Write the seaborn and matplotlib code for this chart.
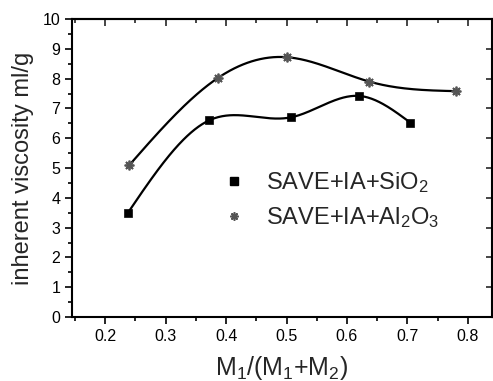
import numpy as np
import pandas as pd
import matplotlib
matplotlib.use("Agg")
import matplotlib.pyplot as plt
from matplotlib.ticker import MultipleLocator
from matplotlib.lines import Line2D
import seaborn as sns

sio2_x = [0.237, 0.372, 0.507, 0.620, 0.705]
sio2_y = [3.48, 6.60, 6.70, 7.42, 6.52]
al_x = [0.240, 0.387, 0.500, 0.637, 0.780]
al_y = [5.10, 8.03, 8.72, 7.90, 7.58]
labels = ["SAVE+IA+SiO$_2$", "SAVE+IA+Al$_2$O$_3$"]
xticks = [0.2, 0.3, 0.4, 0.5, 0.6, 0.7, 0.8]
yticks = list(range(0, 11))


def natural_spline(x, y, n=300):
    x = np.asarray(x, float); y = np.asarray(y, float)
    k = len(x); h = np.diff(x)
    A = np.zeros((k, k)); b = np.zeros(k)
    A[0, 0] = A[-1, -1] = 1
    for i in range(1, k - 1):
        A[i, i - 1] = h[i - 1]; A[i, i] = 2 * (h[i - 1] + h[i]); A[i, i + 1] = h[i]
        b[i] = 6 * ((y[i + 1] - y[i]) / h[i] - (y[i] - y[i - 1]) / h[i - 1])
    M = np.linalg.solve(A, b)
    xs = np.linspace(x[0], x[-1], n)
    idx = np.clip(np.searchsorted(x, xs) - 1, 0, k - 2)
    x0, x1 = x[idx], x[idx + 1]; hh = x1 - x0
    ys = (M[idx] * (x1 - xs) ** 3 / (6 * hh) + M[idx + 1] * (xs - x0) ** 3 / (6 * hh)
          + (y[idx] / hh - M[idx] * hh / 6) * (x1 - xs)
          + (y[idx + 1] / hh - M[idx + 1] * hh / 6) * (xs - x0))
    return xs, ys


sns.set_style("ticks")
plt.rcParams['font.family'] = ['Liberation Sans', 'DejaVu Sans']
plt.rcParams['mathtext.default'] = 'regular'

fig = plt.figure(figsize=(4.93, 3.81), dpi=100)
ax = fig.add_axes([0.146, 0.168, 0.852, 0.782])

for xs_, ys_ in [(sio2_x, sio2_y), (al_x, al_y)]:
    sx, sy = natural_spline(xs_, ys_)
    sns.lineplot(x=sx, y=sy, ax=ax, color='black', lw=1.6, sort=False, estimator=None)

sns.scatterplot(x=sio2_x, y=sio2_y, ax=ax, marker='s', s=36, color='black', edgecolor='black', zorder=5)
ax.plot(al_x, al_y, ls='none', marker=(8, 2, 0), ms=7, mew=1.3, color='#555555', zorder=5)

ax.set_xlim(0.145, 0.84)
ax.set_ylim(0, 10)
ax.set_xticks(xticks)
ax.set_xticklabels([f"{t:.1f}" for t in xticks])
ax.set_yticks(yticks)
ax.xaxis.set_minor_locator(MultipleLocator(0.05))
ax.yaxis.set_minor_locator(MultipleLocator(0.5))
for s in ax.spines.values():
    s.set_linewidth(1.5)
    s.set_color('black')
ax.tick_params(which='both', direction='out', top=False, right=False, width=1.2, labelsize=11.5, colors='black')
ax.tick_params(which='major', length=5)
ax.tick_params(which='minor', length=3)

top = ax.secondary_xaxis('top')
top.set_xticks(xticks)
top.xaxis.set_minor_locator(MultipleLocator(0.05))
top.tick_params(which='both', direction='in', labeltop=False, width=1.2)
top.tick_params(which='major', length=5)
top.tick_params(which='minor', length=3)
top.spines['top'].set_linewidth(1.5)

right = ax.secondary_yaxis('right')
right.set_yticks(yticks)
right.tick_params(which='both', direction='in', labelright=False, width=1.2, length=4)

ax.set_xlabel("M$_1$/(M$_1$+M$_2$)", fontsize=18, labelpad=7)
ax.set_ylabel("inherent viscosity ml/g", fontsize=17, labelpad=6)

h1 = Line2D([], [], ls='none', marker='s', ms=6, color='black')
h2 = Line2D([], [], ls='none', marker=(8, 2, 0), ms=6, mew=1.2, color='#555555')
ax.legend([h1, h2], labels, loc='lower left', bbox_to_anchor=(0.307, 0.22), frameon=False,
          fontsize=17, handlelength=1.0, handletextpad=0.85, labelspacing=0.45,
          bbox_transform=ax.transAxes)

fig.savefig("out.png", dpi=100)
